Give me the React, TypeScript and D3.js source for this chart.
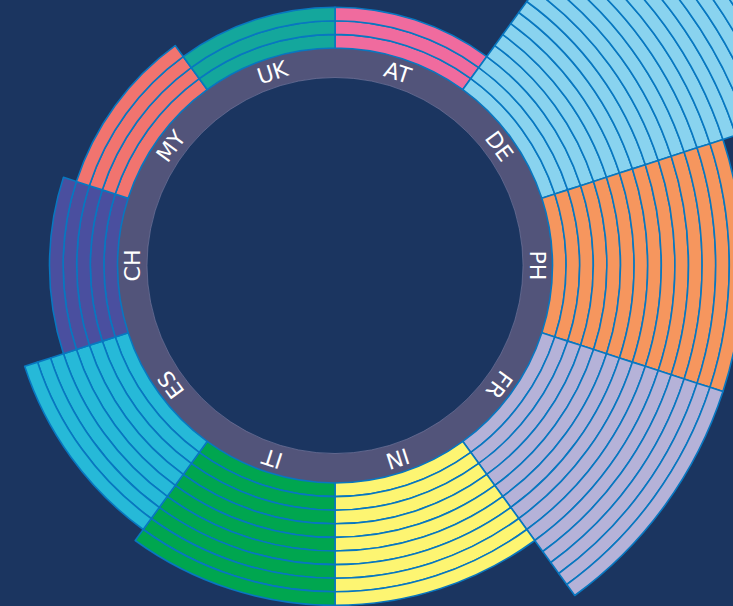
import React, { useRef, useEffect } from 'react';
import * as d3 from 'd3';

// countries clockwise from 12 o'clock
const countries = ['AT', 'DE', 'PH', 'FR', 'IN', 'IT', 'ES', 'CH', 'MY', 'UK'];
// number of stacked units per country
const counts = [3, 21, 14, 14, 9, 9, 8, 5, 4, 3];
const palette = ['#f06b9e', '#89d3ef', '#f6965e', '#b5b2d8', '#fdf572', '#00a64f', '#26b9d8', '#4a4f9f', '#f1746f', '#14a79c'];

const width = 733;
const height = 606;

export default function App() {
    const svgRef = useRef<SVGSVGElement>(null);

    useEffect(() => {
        const svg = d3.select(svgRef.current);
        svg.selectAll('*').remove();

        const cx = 335, cy = 265.5;
        const innerR = 188;
        const ringR = 217.5;
        const unit = 13.6;
        const maxCount = d3.max(counts) as number;

        svg.append('rect')
            .attr('width', width)
            .attr('height', height)
            .attr('fill', '#1b3560');

        const g = svg.append('g').attr('transform', `translate(${cx},${cy})`);

        const angle = d3.scaleBand<string>()
            .domain(countries)
            .range([0, 2 * Math.PI])
            .padding(0);

        const radius = d3.scaleLinear()
            .domain([0, maxCount])
            .range([ringR, ringR + maxCount * unit]);

        // grey label ring
        g.append('path')
            .attr('d', d3.arc()({ innerRadius: innerR, outerRadius: ringR, startAngle: 0, endAngle: 2 * Math.PI }) as string)
            .attr('fill', '#52547a');
        g.append('circle')
            .attr('r', innerR)
            .attr('fill', 'none')
            .attr('stroke', '#7f80a4')
            .attr('stroke-width', 0.6);

        const segments = countries.flatMap((c, i) =>
            d3.range(counts[i]).map(k => ({ country: c, color: palette[i], k }))
        );

        const arc = d3.arc<any>()
            .innerRadius(d => radius(d.k))
            .outerRadius(d => radius(d.k + 1))
            .startAngle(d => angle(d.country) as number)
            .endAngle(d => (angle(d.country) as number) + angle.bandwidth());

        g.selectAll('path.seg')
            .data(segments)
            .join('path')
            .attr('class', 'seg')
            .attr('d', arc)
            .attr('fill', d => d.color)
            .attr('stroke', '#0877c0')
            .attr('stroke-width', 1.6)
            .attr('stroke-linejoin', 'round');

        const labelR = (innerR + ringR) / 2;
        g.selectAll('text.lbl')
            .data(countries)
            .join('text')
            .attr('class', 'lbl')
            .attr('transform', d => {
                const a = (angle(d) as number) + angle.bandwidth() / 2;
                const x = labelR * Math.sin(a);
                const y = -labelR * Math.cos(a);
                return `translate(${x},${y}) rotate(${a * 180 / Math.PI})`;
            })
            .attr('text-anchor', 'middle')
            .attr('dominant-baseline', 'central')
            .attr('fill', '#ffffff')
            .style('font-family', 'DejaVu Sans, sans-serif')
            .style('font-size', '22px')
            .text(d => d);
    }, []);

    return (
        <div style={{ position: 'fixed', left: 0, top: 0, width, height, overflow: 'hidden' }}>
            <svg ref={svgRef} width={width} height={height} style={{ display: 'block' }} />
        </div>
    );
}
